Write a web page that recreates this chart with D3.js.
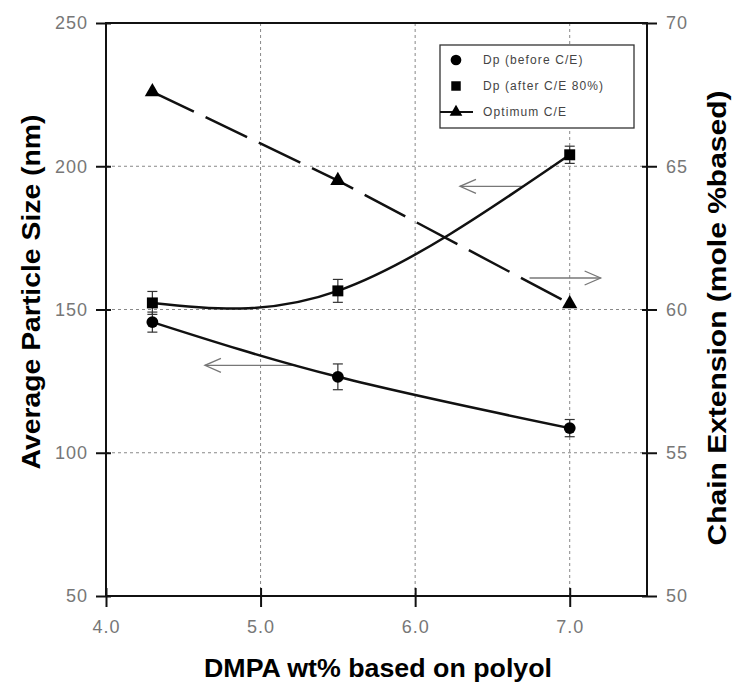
<!DOCTYPE html>
<html>
<head>
<meta charset="utf-8">
<script src="https://cdn.jsdelivr.net/npm/d3@7"></script>
<style>
  body { margin: 0; background: #fff; }
  svg { font-family: "Liberation Sans", Arial, sans-serif; }
</style>
</head>
<body>
<div id="chart"></div>
<script>
// data
var dmpa = [4.3, 5.5, 7.0];
var dpBefore = [145.6, 126.5, 108.6];
var dpBeforeErr = [3.5, 4.5, 3];
var dpAfter = [152.3, 156.5, 204];
var dpAfterErr = [4, 4, 3];
var optimumCE = [67.6, 64.5, 60.2];
var xTicks = [4.0, 5.0, 6.0, 7.0];
var yLeftTicks = [50, 100, 150, 200, 250];
var yRightTicks = [50, 55, 60, 65, 70];
var legendLabels = ["Dp (before C/E)", "Dp (after C/E 80%)", "Optimum C/E"];
// arrows: [x from, x to, value, axis]
var arrows = [
  [5.23, 4.64, 130.5, "left"],
  [6.7, 6.29, 64.3, "right"],
  [6.74, 7.2, 61.1, "right"]
];

var w = 736, h = 690;
var mL = 106, mR = 647, mT = 23, mB = 596;

var svg = d3.select("#chart").append("svg")
  .attr("width", w)
  .attr("height", h);

var x = d3.scaleLinear().domain([4, 7.5]).range([mL, mR]);
var yL = d3.scaleLinear().domain([50, 250]).range([mB, mT]);
var yR = d3.scaleLinear().domain([50, 70]).range([mB, mT]);

// grid
svg.selectAll(".vgrid")
  .data(xTicks.slice(1))
  .enter().append("line")
  .attr("x1", function(d) { return x(d); })
  .attr("x2", function(d) { return x(d); })
  .attr("y1", mT).attr("y2", mB)
  .attr("stroke", "#888").attr("stroke-width", 1)
  .attr("stroke-dasharray", "3,3");
svg.selectAll(".hgrid")
  .data(yLeftTicks.slice(1, 4))
  .enter().append("line")
  .attr("x1", mL).attr("x2", mR)
  .attr("y1", function(d) { return yL(d); })
  .attr("y2", function(d) { return yL(d); })
  .attr("stroke", "#888").attr("stroke-width", 1)
  .attr("stroke-dasharray", "3,3");

// axes
function styleAxis(g) {
  g.select(".domain").remove();
  g.selectAll(".tick line").attr("stroke", "#111").attr("stroke-width", 2);
  g.selectAll(".tick text").attr("fill", "#777").attr("font-size", 18)
    .attr("letter-spacing", 1);
}
svg.append("g")
  .attr("transform", "translate(0," + mB + ")")
  .call(d3.axisBottom(x).tickValues(xTicks).tickFormat(d3.format(".1f")).tickSize(11).tickPadding(13))
  .call(styleAxis)
  .selectAll(".tick line").attr("y1", -8);
svg.append("g")
  .attr("transform", "translate(" + mL + ",0)")
  .call(d3.axisLeft(yL).tickValues(yLeftTicks).tickSize(10).tickPadding(8))
  .call(styleAxis)
  .selectAll(".tick line").attr("x1", 5);
svg.append("g")
  .attr("transform", "translate(" + mR + ",0)")
  .call(d3.axisRight(yR).tickValues(yRightTicks).tickSize(10).tickPadding(9))
  .call(styleAxis)
  .selectAll(".tick line").attr("x1", -5);

// frame
svg.append("rect")
  .attr("x", mL).attr("y", mT)
  .attr("width", mR - mL).attr("height", mB - mT)
  .attr("fill", "none").attr("stroke", "#111").attr("stroke-width", 2);

// arrows
var arrowG = svg.append("g");
arrows.forEach(function(a) {
  var ys = a[3] == "left" ? yL : yR;
  var x1 = x(a[0]), x2 = x(a[1]), yy = ys(a[2]);
  var dir = x2 > x1 ? -1 : 1;
  arrowG.append("line")
    .attr("x1", x1).attr("x2", x2).attr("y1", yy).attr("y2", yy)
    .attr("stroke", "#777").attr("stroke-width", 1.3);
  arrowG.append("path")
    .attr("d", "M" + (x2 + dir * 16) + "," + (yy - 7) + " L" + x2 + "," + yy + " L" + (x2 + dir * 16) + "," + (yy + 7))
    .attr("fill", "none").attr("stroke", "#777").attr("stroke-width", 1.3);
});

// lines
var lineL = d3.line()
  .x(function(d, i) { return x(dmpa[i]); })
  .y(function(d) { return yL(d); })
  .curve(d3.curveNatural);
var lineR = d3.line()
  .x(function(d, i) { return x(dmpa[i]); })
  .y(function(d) { return yR(d); });

svg.append("path").datum(dpBefore)
  .attr("d", lineL).attr("fill", "none")
  .attr("stroke", "#111").attr("stroke-width", 2.5);
svg.append("path").datum(dpAfter)
  .attr("d", lineL).attr("fill", "none")
  .attr("stroke", "#111").attr("stroke-width", 2.5);
svg.append("path").datum(optimumCE)
  .attr("d", lineR).attr("fill", "none")
  .attr("stroke", "#111").attr("stroke-width", 2.5)
  .attr("stroke-dasharray", "46,13");

// error bars
function errBars(vals, errs) {
  var g = svg.append("g");
  vals.forEach(function(v, i) {
    var cx = x(dmpa[i]);
    g.append("line").attr("x1", cx).attr("x2", cx)
      .attr("y1", yL(v - errs[i])).attr("y2", yL(v + errs[i]))
      .attr("stroke", "#333").attr("stroke-width", 1.2);
    [v - errs[i], v + errs[i]].forEach(function(e) {
      g.append("line").attr("x1", cx - 5).attr("x2", cx + 5)
        .attr("y1", yL(e)).attr("y2", yL(e))
        .attr("stroke", "#333").attr("stroke-width", 1.2);
    });
  });
}
errBars(dpBefore, dpBeforeErr);
errBars(dpAfter, dpAfterErr);

// markers
svg.selectAll(".c").data(dpBefore).enter().append("path")
  .attr("d", d3.symbol().type(d3.symbolCircle).size(110)())
  .attr("transform", function(d, i) { return "translate(" + x(dmpa[i]) + "," + yL(d) + ")"; })
  .attr("fill", "#000");
svg.selectAll(".s").data(dpAfter).enter().append("path")
  .attr("d", d3.symbol().type(d3.symbolSquare).size(120)())
  .attr("transform", function(d, i) { return "translate(" + x(dmpa[i]) + "," + yL(d) + ")"; })
  .attr("fill", "#000");
svg.selectAll(".t").data(optimumCE).enter().append("path")
  .attr("d", d3.symbol().type(d3.symbolTriangle).size(100)())
  .attr("transform", function(d, i) { return "translate(" + x(dmpa[i]) + "," + yR(d) + ")"; })
  .attr("fill", "#000");

// legend
var lg = svg.append("g").attr("transform", "translate(440,45)");
lg.append("rect").attr("width", 194).attr("height", 83)
  .attr("fill", "#fff").attr("stroke", "#333").attr("stroke-width", 1.3);
var legendSym = [d3.symbolCircle, d3.symbolSquare, d3.symbolTriangle];
legendLabels.forEach(function(t, i) {
  var yy = 15 + i * 26;
  if (i == 2) {
    lg.append("line").attr("x1", 0).attr("x2", 33).attr("y1", yy).attr("y2", yy)
      .attr("stroke", "#111").attr("stroke-width", 2);
  }
  lg.append("path").attr("d", d3.symbol().type(legendSym[i]).size(i == 2 ? 70 : 90)())
    .attr("transform", "translate(16," + yy + ")").attr("fill", "#000");
  lg.append("text").attr("x", 43).attr("y", yy + 4)
    .attr("font-size", 12).attr("fill", "#444").attr("letter-spacing", 1.1).text(t);
});

// titles
svg.append("text")
  .attr("x", 378).attr("y", 677)
  .attr("text-anchor", "middle")
  .attr("font-size", 26).attr("font-weight", "bold")
  .attr("textLength", 348).attr("lengthAdjust", "spacingAndGlyphs")
  .text("DMPA wt% based on polyol");
svg.append("text")
  .attr("transform", "translate(40,292) rotate(-90)")
  .attr("text-anchor", "middle")
  .attr("font-size", 26).attr("font-weight", "bold")
  .attr("textLength", 355).attr("lengthAdjust", "spacingAndGlyphs")
  .text("Average Particle Size (nm)");
svg.append("text")
  .attr("transform", "translate(726,318) rotate(-90)")
  .attr("text-anchor", "middle")
  .attr("font-size", 26).attr("font-weight", "bold")
  .attr("textLength", 455).attr("lengthAdjust", "spacingAndGlyphs")
  .text("Chain Extension (mole %based)");
</script>
</body>
</html>
